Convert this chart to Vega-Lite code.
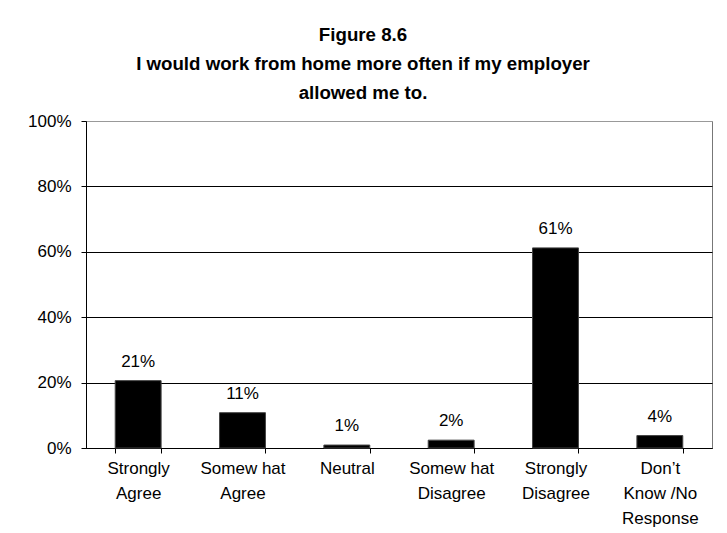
{
  "$schema": "https://vega.github.io/schema/vega-lite/v6.json",
  "width": 626,
  "height": 327,
  "autosize": {"type": "none"},
  "padding": {"left": 86, "top": 121, "right": 15, "bottom": 85},
  "background": "white",
  "title": {
    "text": ["Figure 8.6", "I would work from home more often if my employer", "allowed me to."],
    "font": "Liberation Sans",
    "fontSize": 18.7,
    "fontWeight": "bold",
    "lineHeight": 29,
    "color": "black",
    "anchor": "middle",
    "dx": -36,
    "offset": 9
  },
  "config": {
    "view": {"stroke": "#777", "strokeWidth": 1},
    "font": "Liberation Sans"
  },
  "data": {
    "values": [
      {"category": "Strongly|Agree", "value": 0.206},
      {"category": "Somew hat|Agree", "value": 0.108},
      {"category": "Neutral", "value": 0.009},
      {"category": "Somew hat|Disagree", "value": 0.024},
      {"category": "Strongly|Disagree", "value": 0.612},
      {"category": "Don’t|Know /No|Response", "value": 0.038}
    ]
  },
  "encoding": {
    "x": {
      "field": "category",
      "type": "nominal",
      "sort": null,
      "scale": {"paddingInner": 0.56, "paddingOuter": 0.28},
      "axis": {
        "title": null,
        "labelAngle": 0,
        "labelExpr": "split(datum.label, '|')",
        "labelFont": "Liberation Sans",
        "labelFontSize": 17,
        "labelLineHeight": 25,
        "labelColor": "black",
        "labelPadding": 7,
        "labelLimit": 200,
        "tickBand": "extent",
        "tickSize": 5,
        "tickColor": "black",
        "domainColor": "black",
        "grid": false
      }
    },
    "y": {
      "field": "value",
      "type": "quantitative",
      "scale": {"domain": [0, 1]},
      "axis": {
        "title": null,
        "format": ".0%",
        "values": [0, 0.2, 0.4, 0.6, 0.8, 1],
        "labelFont": "Liberation Sans",
        "labelFontSize": 17,
        "labelColor": "black",
        "labelPadding": 10,
        "tickSize": 5,
        "tickColor": "black",
        "domainColor": "black",
        "grid": true,
        "gridColor": {"condition": {"test": "datum.value === 1", "value": "#999"}, "value": "black"},
        "gridOpacity": 1
      }
    }
  },
  "layer": [
    {
      "mark": {"type": "bar", "color": "black", "stroke": "#444", "strokeWidth": 1}
    },
    {
      "mark": {"type": "text", "baseline": "alphabetic", "dy": -14, "font": "Liberation Sans", "fontSize": 17, "color": "black"},
      "encoding": {
        "text": {"field": "value", "type": "quantitative", "format": ".0%"}
      }
    }
  ]
}
